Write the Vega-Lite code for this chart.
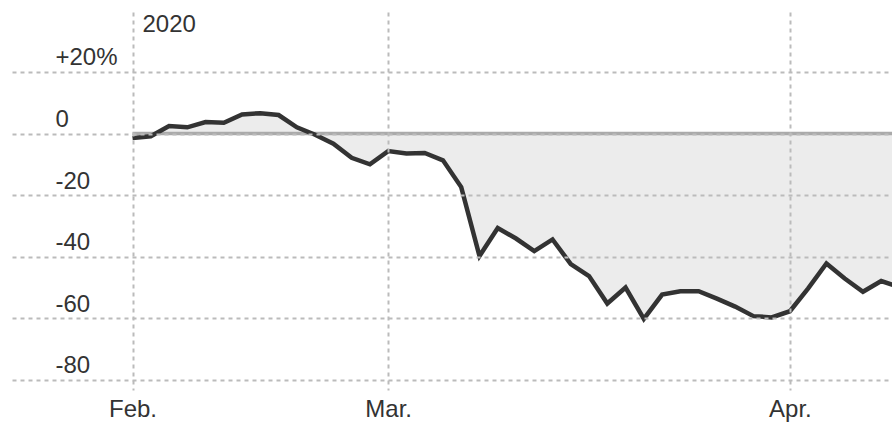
{
  "$schema": "https://vega.github.io/schema/vega-lite/v6.json",
  "width": 880,
  "height": 378,
  "autosize": {"type": "none"},
  "padding": {"left": 12, "top": 12, "right": 0, "bottom": 36},
  "background": "white",
  "config": {"view": {"stroke": null}, "font": "Liberation Sans"},
  "data": {"values": [
    {"day": 0, "change": -1.5}, {"day": 1, "change": -0.9}, {"day": 2, "change": 2.4}, {"day": 3, "change": 2.0},
    {"day": 4, "change": 3.7}, {"day": 5, "change": 3.5}, {"day": 6, "change": 6.2}, {"day": 7, "change": 6.6},
    {"day": 8, "change": 6.0}, {"day": 9, "change": 2.0}, {"day": 10, "change": -0.4}, {"day": 11, "change": -3.3},
    {"day": 12, "change": -7.9}, {"day": 13, "change": -10.0}, {"day": 14, "change": -5.7}, {"day": 15, "change": -6.5},
    {"day": 16, "change": -6.3}, {"day": 17, "change": -8.7}, {"day": 18, "change": -17.4}, {"day": 19, "change": -39.8},
    {"day": 20, "change": -30.7}, {"day": 21, "change": -34.1}, {"day": 22, "change": -38.2}, {"day": 23, "change": -34.4},
    {"day": 24, "change": -42.4}, {"day": 25, "change": -46.3}, {"day": 26, "change": -55.2}, {"day": 27, "change": -50.0},
    {"day": 28, "change": -60.2}, {"day": 29, "change": -52.3}, {"day": 30, "change": -51.2}, {"day": 31, "change": -51.2},
    {"day": 32, "change": -53.6}, {"day": 33, "change": -56.2}, {"day": 34, "change": -59.3}, {"day": 35, "change": -59.7},
    {"day": 36, "change": -57.7}, {"day": 37, "change": -50.3}, {"day": 38, "change": -42.2}, {"day": 39, "change": -47.1},
    {"day": 40, "change": -51.4}, {"day": 41, "change": -47.9}, {"day": 42, "change": -49.9}
  ]},
  "layer": [
    {
      "mark": {"type": "area", "color": "#ececec", "clip": true},
      "encoding": {
        "x": {
          "field": "day", "type": "quantitative",
          "scale": {"domain": [-6.6, 41.59], "nice": false, "zero": false},
          "axis": {
            "values": [0, 14, 36],
            "labelExpr": "datum.value == 0 ? 'Feb.' : datum.value == 14 ? 'Mar.' : 'Apr.'",
            "title": null, "domain": false, "ticks": false, "tickSize": 0,
            "grid": true, "gridColor": "#bbbbbb", "gridDash": [4, 4], "gridWidth": 2,
            "labelPadding": 7, "labelFontSize": 24, "labelColor": "#333333",
            "labelFont": "Liberation Sans", "labelFlush": false, "zindex": 1
          }
        },
        "y": {
          "field": "change", "type": "quantitative",
          "scale": {"domain": [-83.28, 39.45], "nice": false, "zero": false},
          "axis": {
            "values": [-80, -60, -40, -20, 0, 20],
            "labelExpr": "datum.value == 20 ? '+20%' : '' + datum.value",
            "title": null, "domain": false, "ticks": false, "tickSize": 0,
            "grid": true, "gridColor": "#bbbbbb", "gridDash": [4, 4], "gridWidth": 2,
            "labelAlign": "left", "labelBaseline": "alphabetic", "labelOffset": -7,
            "labelPadding": -43, "labelFontSize": 24, "labelColor": "#333333",
            "labelFont": "Liberation Sans", "zindex": 1
          }
        },
        "y2": {"datum": 0}
      }
    },
    {
      "data": {"values": [{}]},
      "mark": {"type": "rule", "color": "#aaaaaa", "strokeWidth": 3.5, "clip": true},
      "encoding": {
        "x": {"datum": 0, "type": "quantitative"},
        "x2": {"datum": 42},
        "y": {"datum": 0, "type": "quantitative"}
      }
    },
    {
      "mark": {"type": "line", "color": "#333333", "strokeWidth": 4.5, "clip": true},
      "encoding": {
        "x": {"field": "day", "type": "quantitative"},
        "y": {"field": "change", "type": "quantitative"}
      }
    },
    {
      "data": {"values": [{"label": "2020"}]},
      "mark": {"type": "text", "align": "left", "baseline": "alphabetic", "dx": 10, "fontSize": 24, "color": "#333333", "font": "Liberation Sans"},
      "encoding": {
        "x": {"datum": 0, "type": "quantitative"},
        "y": {"datum": 33, "type": "quantitative"},
        "text": {"field": "label"}
      }
    }
  ]
}
